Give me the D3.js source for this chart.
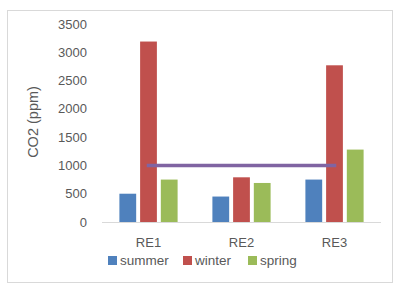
<!DOCTYPE html>
<html>
<head>
<meta charset="utf-8">
<script src="https://cdn.jsdelivr.net/npm/d3@7"></script>
<style>
  body { margin: 0; background: #fff; }
  text { font-family: "Liberation Sans", Arial, sans-serif; fill: #595959; }
</style>
</head>
<body>
<svg id="vis" width="402" height="292"></svg>
<script>
var categories = ["RE1", "RE2", "RE3"];
var seasons = ["summer", "winter", "spring"];
var summer = [500, 450, 750];
var winter = [3190, 790, 2770];
var spring = [750, 690, 1280];
var limit = 1000;
var yTicks = [0, 500, 1000, 1500, 2000, 2500, 3000, 3500];
var colours = ["#4F81BD", "#C0504D", "#9BBB59"];
var lineColour = "#8064A2";

var values = [summer, winter, spring];

var svg = d3.select("#vis");

// chart frame
svg.append("rect")
    .attr("x", 7.5).attr("y", 10.5)
    .attr("width", 385).attr("height", 272)
    .attr("fill", "#fff")
    .attr("stroke", "#d9d9d9");

var xScale = d3.scaleBand()
    .domain(categories)
    .range([102, 381]);

var xInner = d3.scaleBand()
    .domain(seasons)
    .range([0, xScale.bandwidth()])
    .paddingInner(0.19)
    .paddingOuter(0.84);

var yScale = d3.scaleLinear()
    .domain([0, 3500])
    .range([222, 24]);

// y tick labels
svg.selectAll(".ytick")
    .data(yTicks)
    .enter()
    .append("text")
    .attr("class", "ytick")
    .attr("x", 87)
    .attr("y", function(d) { return yScale(d); })
    .attr("dy", "0.35em")
    .attr("text-anchor", "end")
    .style("font-size", "13px")
    .text(function(d) { return d; });

// y axis title
svg.append("text")
    .attr("transform", "translate(38,122) rotate(-90)")
    .attr("text-anchor", "middle")
    .style("font-size", "14.5px")
    .text("CO2 (ppm)");

// bars
var groups = svg.selectAll(".series")
    .data(values)
    .enter()
    .append("g")
    .attr("class", "series")
    .attr("fill", function(d, i) { return colours[i]; });

groups.selectAll("rect")
    .data(function(d, i) {
        return d.map(function(v, j) { return {season: seasons[i], cat: categories[j], value: v}; });
    })
    .enter()
    .append("rect")
    .attr("x", function(d) { return xScale(d.cat) + xInner(d.season); })
    .attr("y", function(d) { return yScale(d.value); })
    .attr("width", xInner.bandwidth())
    .attr("height", function(d) { return yScale(0) - yScale(d.value); });

// baseline
svg.append("line")
    .attr("x1", 102).attr("x2", 381)
    .attr("y1", yScale(0) + 0.5).attr("y2", yScale(0) + 0.5)
    .attr("stroke", "#d9d9d9");

// x labels
svg.selectAll(".xtick")
    .data(categories)
    .enter()
    .append("text")
    .attr("class", "xtick")
    .attr("x", function(d) { return xScale(d) + xScale.bandwidth() / 2; })
    .attr("y", 242)
    .attr("dy", "0.35em")
    .attr("text-anchor", "middle")
    .style("font-size", "13px")
    .text(function(d) { return d; });

// limit line
var line = d3.line()
    .x(function(d) { return xScale(d) + xScale.bandwidth() / 2; })
    .y(function() { return yScale(limit); });

svg.append("path")
    .datum([categories[0], categories[categories.length - 1]])
    .attr("d", line)
    .attr("fill", "none")
    .attr("stroke", lineColour)
    .attr("stroke-width", 3.5)
    .attr("stroke-linecap", "square");

// legend
var legendX = [108, 183, 248];
var legend = svg.selectAll(".legend")
    .data(seasons)
    .enter()
    .append("g")
    .attr("class", "legend")
    .attr("transform", function(d, i) { return "translate(" + legendX[i] + ",260)"; });

legend.append("rect")
    .attr("x", 0).attr("y", -4)
    .attr("width", 9).attr("height", 9)
    .attr("fill", function(d, i) { return colours[i]; });

legend.append("text")
    .attr("x", 12)
    .attr("y", 0)
    .attr("dy", "0.35em")
    .style("font-size", "13.5px")
    .text(function(d) { return d; });
</script>
</body>
</html>
